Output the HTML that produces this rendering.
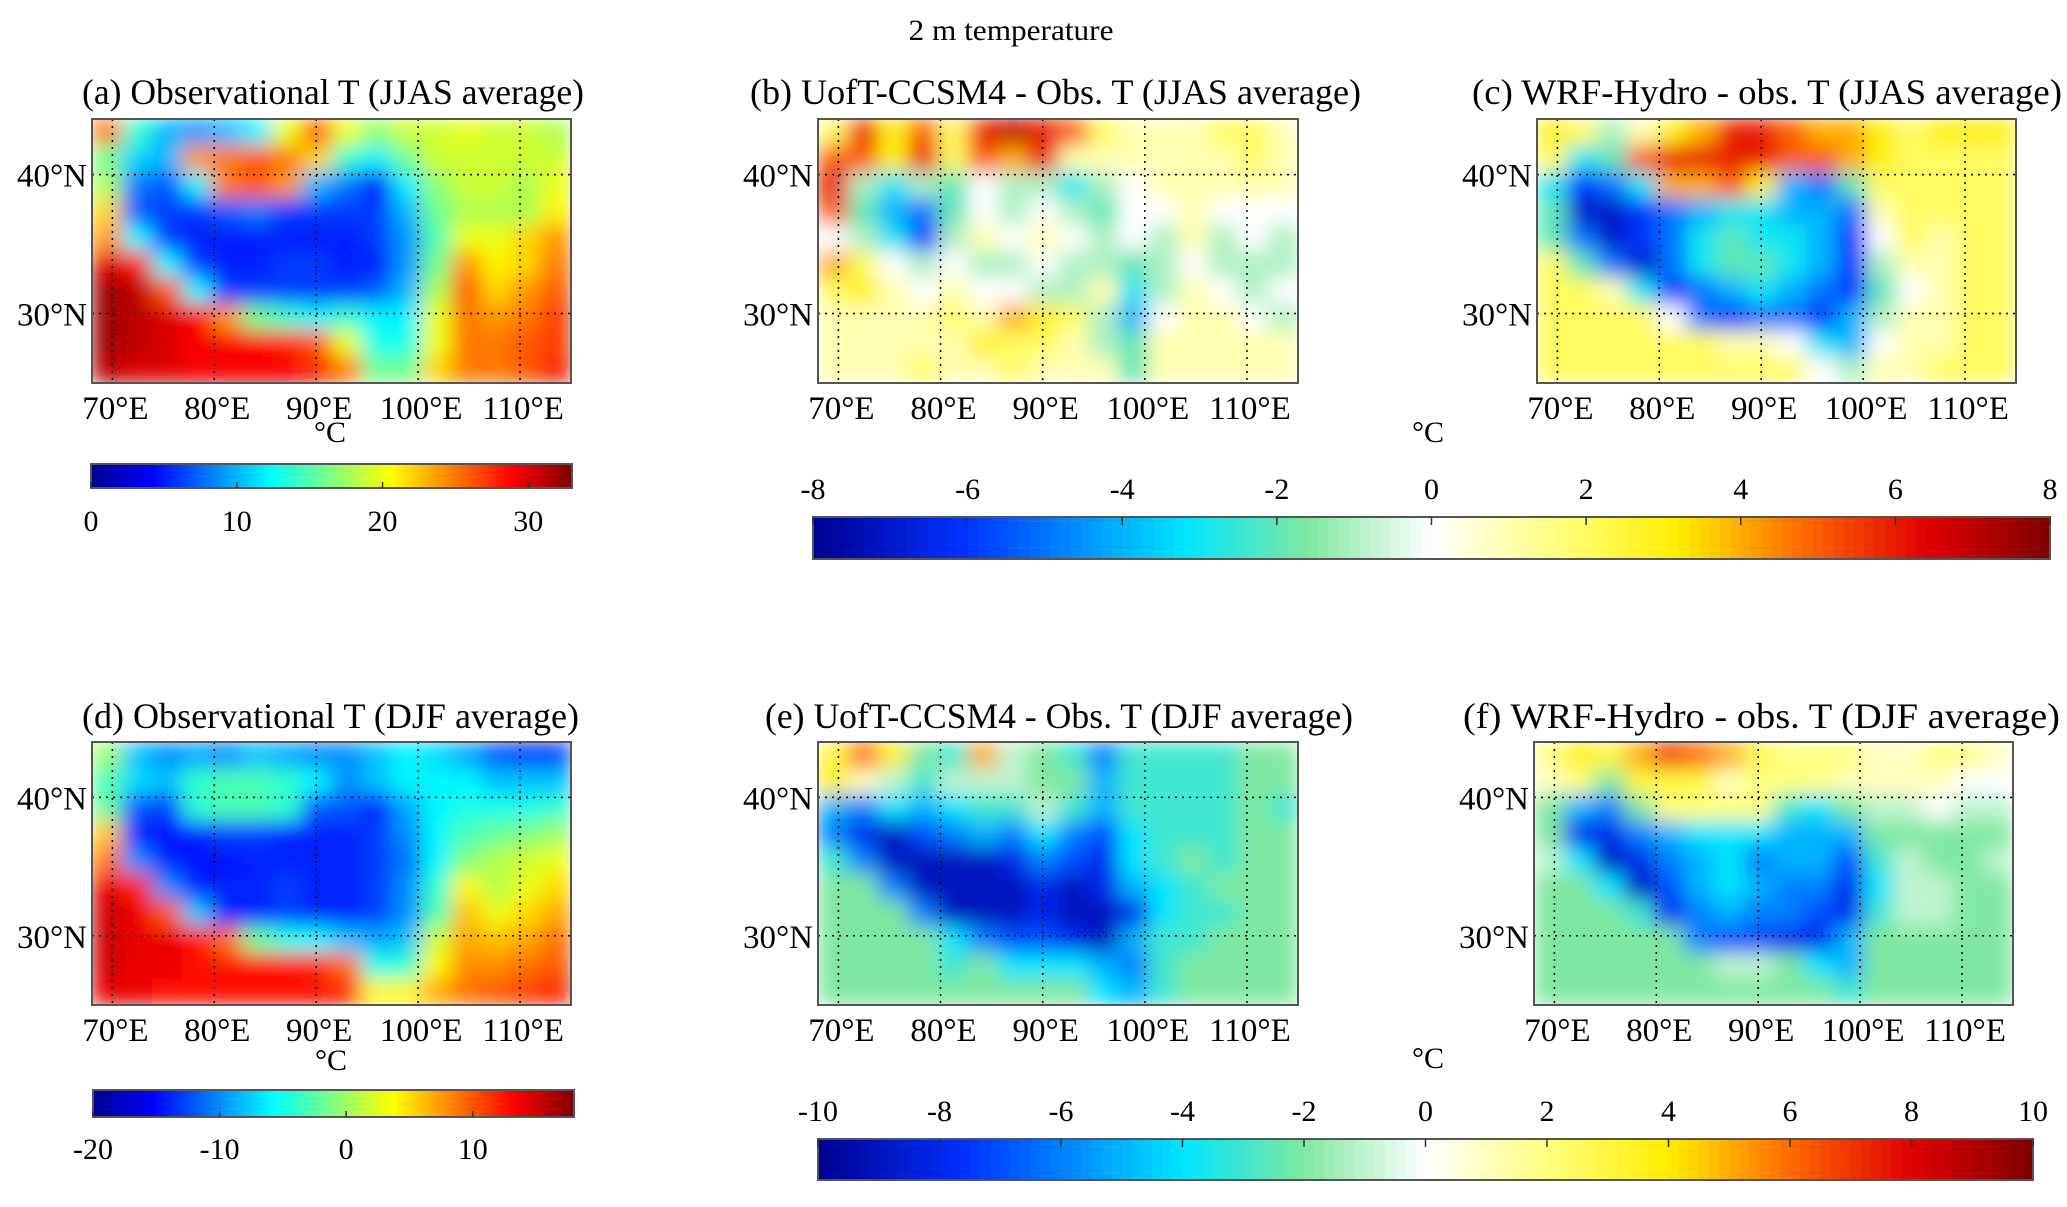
<!DOCTYPE html>
<html><head><meta charset="utf-8"><style>
html,body{margin:0;padding:0;background:#fff;}
svg text{font-family:"Liberation Serif","Times New Roman",serif;fill:#000;}
</style></head><body>
<svg id="fig" width="2067" height="1202" viewBox="0 0 2067 1202" xmlns="http://www.w3.org/2000/svg" font-family="Liberation Serif, serif">
<defs>
<filter id="blur" x="0" y="0" width="1" height="1"><feGaussianBlur stdDeviation="10" edgeMode="duplicate"/></filter>
</defs>
<text x="1011" y="40" font-size="30" text-anchor="middle" textLength="205" lengthAdjust="spacingAndGlyphs">2 m temperature</text>
</svg>
<script>
// ---- data (approximate field values, rows 44N→25N, cols 68E→115E) ----
const lonTicks = [70, 80, 90, 100, 110];
const latTicks = [30, 40];
const panelA = [
[25,14,10,9,10,12,20,26,20,17,19,19,20,19,19,18],
[16,11,10,24,25,26,25,22,14,12,16,19,19,19,19,19],
[18,8,7,12,25,26,24,10,8,4,12,17,19,19,18,20],
[22,7,6,6,7,8,6,6,6,6,10,16,18,18,18,21],
[24,12,6,5,5,5,5,5,5,6,9,15,20,20,22,24],
[30,28,12,6,5,5,6,6,5,5,9,16,24,21,22,25],
[32,31,26,12,6,6,6,6,6,7,10,18,26,22,24,26],
[32,31,30,29,24,16,14,12,14,12,12,20,25,24,25,27],
[32,31,30,29,29,29,28,26,20,13,13,20,25,25,26,27],
[31,30,30,29,29,29,29,28,25,16,16,22,25,25,26,28]];
const panelB = [
[2,6,3,5,2,6,7,6,5,2,1,1,1,2,2,1],
[5,5,3,6,2,5,4,6,1,1,1,1,1,1,2,1],
[6,-1,-3,-1,-2,0,-1,-1,-3,-1,0,1,1,1,1,1],
[5,-2,-4,-5,-2,0,-1,0,-1,-2,0,0,1,0,0,0],
[0,-1,-3,-6,-1,1,0,1,0,-1,0,-1,1,-1,0,-1],
[4,2,0,-1,0,-1,-1,0,-1,-1,-2,-1,0,-1,-1,-1],
[2,3,1,0,1,0,0,-1,-1,1,-3,-1,1,0,-1,0],
[1,1,1,1,2,1,4,3,2,-1,-4,0,1,1,0,-1],
[1,1,1,1,1,3,2,2,1,-1,-2,1,1,1,1,1],
[1,1,1,2,1,1,2,1,1,1,-2,1,1,1,1,1]];
const panelC = [
[3,2,-1,1,3,4,6,6,5,4,4,3,2,3,3,3],
[2,-3,-2,5,6,6,6,6,5,5,4,3,2,2,2,2],
[-3,-6,-5,-3,4,4,5,3,-4,-5,-2,2,2,2,2,2],
[-2,-7,-7,-6,-5,-4,-3,-3,-4,-4,-5,1,2,2,2,2],
[-2,-5,-7,-6,-5,-3,-2,-3,-3,-4,-6,0,2,1,2,2],
[2,-2,-5,-7,-5,-3,-2,-2,-3,-4,-6,-1,1,1,2,2],
[2,2,1,-3,-6,-5,-4,-3,-4,-5,-6,-2,0,1,2,2],
[2,2,2,2,0,-5,-6,-5,-5,-6,-4,-1,1,1,2,2],
[2,2,2,2,2,2,1,1,0,-3,-4,0,1,1,2,2],
[2,2,2,2,2,2,2,2,2,0,-1,1,1,2,2,2]];
const panelD = [
[0,-8,-10,-9,-10,-8,-9,-10,-10,-8,-6,-7,-9,-12,-13,-13],
[-3,-7,-8,-4,-3,-3,-4,-6,-10,-8,-6,-6,-6,-8,-8,-8],
[-2,-12,-13,-4,-3,-3,-4,-12,-12,-15,-9,-6,-5,-5,-5,-4],
[6,-14,-15,-14,-13,-13,-14,-14,-14,-13,-10,-6,-3,-2,-1,0],
[9,-10,-14,-15,-15,-14,-14,-14,-14,-13,-11,-6,-1,1,2,3],
[14,12,-10,-14,-14,-14,-13,-14,-14,-13,-10,-4,4,1,3,5],
[15,14,10,-8,-14,-14,-13,-14,-14,-13,-10,-3,6,3,5,7],
[15,14,14,13,9,-2,-5,-6,-8,-9,-8,2,7,6,7,9],
[15,14,14,13,13,13,13,12,9,-5,-4,4,8,8,9,10],
[14,14,13,13,13,13,13,13,12,4,4,7,9,10,11,12]];
const panelE = [
[3,6,4,-2,-3,5,-1,-2,-3,-6,-3,-3,-3,-3,-2,-2],
[4,1,-1,-3,-1,-1,-1,-2,-2,-5,-3,-3,-3,-3,-2,-2],
[-5,-6,-4,-5,-4,-3,-3,-1,-3,-5,-3,-3,-3,-3,-2,-3],
[-6,-8,-9,-7,-6,-5,-6,-4,-6,-7,-4,-3,-3,-3,-2,-2],
[-3,-6,-9,-9,-9,-9,-8,-6,-7,-8,-4,-3,-2,-3,-2,-2],
[-2,-2,-6,-9,-9,-9,-9,-8,-9,-8,-5,-4,-3,-2,-2,-2],
[-2,-2,-2,-6,-9,-9,-9,-8,-9,-9,-8,-4,-3,-3,-2,-2],
[-2,-2,-2,-2,-4,-6,-7,-7,-8,-9,-5,-3,-3,-2,-2,-2],
[-2,-2,-2,-2,-3,-2,-4,-4,-4,-5,-6,-3,-2,-2,-2,-2],
[-2,-2,-2,-2,-2,-2,-2,-2,-2,-4,-5,-3,-2,-2,-2,-2]];
const panelF = [
[2,4,3,5,7,6,5,3,2,2,2,1,1,2,2,1],
[1,2,-2,3,3,3,1,2,2,2,1,1,1,1,0,0],
[-2,-5,-6,-2,2,2,2,2,-3,-4,-2,-1,-1,0,-1,-1],
[-2,-8,-8,-6,-5,-4,-4,-4,-5,-5,-5,-2,-2,-2,-2,-2],
[-1,-4,-9,-8,-6,-5,-4,-6,-5,-5,-7,-3,-1,-2,-2,-1],
[-2,-2,-4,-9,-7,-5,-4,-5,-6,-6,-8,-4,-1,-1,-2,-2],
[-2,-2,-2,-3,-8,-6,-5,-6,-6,-7,-8,-3,-1,-1,-2,-2],
[-2,-2,-2,-2,-2,-6,-7,-7,-8,-8,-5,-2,-2,-2,-2,-2],
[-2,-2,-2,-2,-2,-2,-1,-1,-2,-4,-5,-2,-2,-2,-2,-2],
[-2,-2,-2,-2,-2,-2,-2,-2,-2,-2,-3,-2,-2,-2,-2,-2]];
const ticksJJAS = [0, 10, 20, 30];
const ticksDJF = [-20, -10, 0, 10];
const ticksDiff8 = [-8, -6, -4, -2, 0, 2, 4, 6, 8];
const ticksDiff10 = [-10, -8, -6, -4, -2, 0, 2, 4, 6, 8, 10];

// ---- rendering ----
const NS = 'http://www.w3.org/2000/svg';
const svg = document.getElementById('fig');
const LON0 = 68, LON1 = 115, LAT0 = 25, LAT1 = 44;
const jetStops = [[0,[0,0,143]],[0.125,[0,0,255]],[0.375,[0,255,255]],[0.625,[255,255,0]],[0.875,[255,0,0]],[1,[128,0,0]]];
const divStops = [[0,[0,0,143]],[0.12,[0,48,255]],[0.3,[0,229,255]],[0.4,[127,232,160]],[0.5,[255,255,255]],[0.6,[255,255,128]],[0.7,[255,238,0]],[0.8,[255,106,0]],[0.9,[224,0,0]],[1,[127,0,0]]];
function cmap(stops, t){
  t = Math.max(0, Math.min(1, t));
  for (let i = 1; i < stops.length; i++) {
    if (t <= stops[i][0]) {
      const a = stops[i-1], b = stops[i], f = (t - a[0]) / (b[0] - a[0]);
      const c = a[1].map((v, k) => Math.round(v + (b[1][k] - v) * f));
      return 'rgb(' + c.join(',') + ')';
    }
  }
  return 'rgb(' + stops[stops.length-1][1].join(',') + ')';
}
function mk(tag, attrs, parent){
  const el = document.createElementNS(NS, tag);
  for (const k in attrs) el.setAttribute(k, attrs[k]);
  (parent || svg).appendChild(el);
  return el;
}
function txt(s, attrs, parent){ const t = mk('text', attrs, parent); t.textContent = s; return t; }

function drawPanel(id, data, x0, y0, w, h, vmin, vmax, stops, title, tx0, tx1, tyb){
  const xs = lon => x0 + (lon - LON0) / (LON1 - LON0) * w;
  const ys = lat => y0 + (LAT1 - lat) / (LAT1 - LAT0) * h;
  const g = mk('g', {});
  
  
  const clip = mk('clipPath', {id: 'clip-' + id}, g);
  mk('rect', {x: x0, y: y0, width: w, height: h}, clip);
  const cg = mk('g', {'clip-path': 'url(#clip-' + id + ')'}, g);
  const hg = mk('g', {filter: 'url(#blur)'}, cg);
  
  
  const nr = data.length, nc = data[0].length;
  const dLon = (LON1 - LON0) / nc, dLat = (LAT1 - LAT0) / nr;
  for (let r = 0; r < nr; r++) for (let c = 0; c < nc; c++) {
    const la = LON0 + c * dLon, ta = LAT1 - r * dLat;
    const cell = mk('rect', {x: xs(la), y: ys(ta), width: xs(la + dLon) - xs(la) + 0.5, height: ys(ta - dLat) - ys(ta) + 0.5,
      fill: cmap(stops, (data[r][c] - vmin) / (vmax - vmin))}, hg);
    
    
  }
  lonTicks.forEach(lon => {
    const l = mk('line', {x1: xs(lon), x2: xs(lon), y1: y0, y2: y0 + h, stroke: '#000', 'stroke-width': 1.5, 'stroke-dasharray': '2,5'}, g);
    
    
    const t = txt(lon + '°E', {x: xs(lon) + 3, y: y0 + h + 36, 'font-size': 33, 'text-anchor': 'middle'}, g);
    
    
  });
  latTicks.forEach(lat => {
    const l = mk('line', {x1: x0, x2: x0 + w, y1: ys(lat), y2: ys(lat), stroke: '#000', 'stroke-width': 1.5, 'stroke-dasharray': '2,5'}, g);
    
    
    const t = txt(lat + '°N', {x: x0 - 5, y: ys(lat) + 12, 'font-size': 33, 'text-anchor': 'end'}, g);
    
    
  });
  const fr = mk('rect', {x: x0, y: y0, width: w, height: h, fill: 'none', stroke: '#555', 'stroke-width': 2}, g);
  
  
  const tt = txt(title, {x: tx0, y: tyb, 'font-size': 36, textLength: tx1 - tx0, lengthAdjust: 'spacingAndGlyphs'}, g);
  
  
}

function drawColorbar(id, x0, y0, w, h, vmin, vmax, stops, ticks, labelBelow, labelY){
  const g = mk('g', {});
  
  
  const n = 120;
  const xs = v => x0 + (v - vmin) / (vmax - vmin) * w;
  for (let i = 0; i < n; i++) {
    const v = vmin + (i + 0.5) / n * (vmax - vmin);
    const s = mk('rect', {x: x0 + i * w / n, y: y0, width: w / n + 0.6, height: h, fill: cmap(stops, (v - vmin) / (vmax - vmin))}, g);
    
    
  }
  const fr = mk('rect', {x: x0, y: y0, width: w, height: h, fill: 'none', stroke: '#555', 'stroke-width': 2}, g);
  
  
  ticks.forEach(v => {
    const tk = mk('line', {x1: xs(v), x2: xs(v), y1: labelBelow ? y0 + h - 6 : y0, y2: labelBelow ? y0 + h : y0 + 8, stroke: '#333', 'stroke-width': 1.5}, g);
    
    
    const t = txt(String(v), {x: xs(v), y: labelY, 'font-size': 30, 'text-anchor': 'middle'}, g);
    
    
  });
}

drawPanel('a', panelA, 92, 119, 479, 264, 0, 33, jetStops, '(a) Observational T (JJAS average)', 82, 584, 104);
drawPanel('b', panelB, 818, 119, 480, 264, -8, 8, divStops, '(b) UofT-CCSM4 - Obs. T (JJAS average)', 750, 1361, 104);
drawPanel('c', panelC, 1537, 119, 479, 264, -8, 8, divStops, '(c) WRF-Hydro - obs. T (JJAS average)', 1472, 2062, 104);
drawPanel('d', panelD, 92, 742, 479, 263, -20, 18, jetStops, '(d) Observational T (DJF average)', 82, 579, 728);
drawPanel('e', panelE, 818, 742, 480, 263, -10, 10, divStops, '(e) UofT-CCSM4 - Obs. T (DJF average)', 765, 1353, 728);
drawPanel('f', panelF, 1534, 742, 479, 263, -10, 10, divStops, '(f) WRF-Hydro - obs. T (DJF average)', 1463, 2060, 728);

drawColorbar('jjas-obs', 91, 464, 481, 24, 0, 33, jetStops, ticksJJAS, true, 531);
drawColorbar('jjas-diff', 813, 517, 1237, 42, -8, 8, divStops, ticksDiff8, false, 499);
drawColorbar('djf-obs', 93, 1090, 481, 27, -20, 18, jetStops, ticksDJF, true, 1159);
drawColorbar('djf-diff', 818, 1139, 1215, 41, -10, 10, divStops, ticksDiff10, false, 1121);

[[330, 442, 'unit-label-a'], [1428, 442, 'unit-label-b'], [331, 1070, 'unit-label-d'], [1428, 1068, 'unit-label-e']].forEach(p => {
  const t = txt('°C', {x: p[0], y: p[1], 'font-size': 30, 'text-anchor': 'middle'});
  
  
});
</script>
</body></html>
